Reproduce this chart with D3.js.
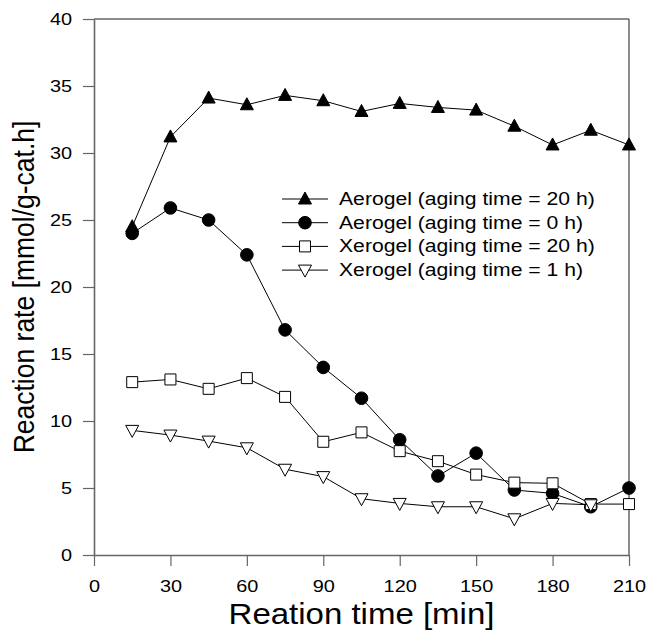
<!DOCTYPE html>
<html>
<head>
<meta charset="utf-8">
<script src="https://cdn.jsdelivr.net/npm/d3@7"></script>
<style>
  body { margin: 0; background: #fff; }
  text { font-family: "Liberation Sans", Arial, sans-serif; }
</style>
</head>
<body>
<svg id="chart" width="647" height="632"></svg>
<script>
// data
const times = [15, 30, 45, 60, 75, 90, 105, 120, 135, 150, 165, 180, 195, 210];
const aerogel20 = [24.5, 31.2, 34.1, 33.6, 34.3, 33.9, 33.1, 33.7, 33.4, 33.2, 32.0, 30.6, 31.7, 30.6];
const aerogel0 = [24.0, 25.9, 25.0, 22.4, 16.8, 14.0, 11.7, 8.6, 5.9, 7.6, 4.85, 4.6, 3.6, 5.0];
const xerogel20 = [12.9, 13.1, 12.4, 13.2, 11.8, 8.45, 9.15, 7.75, 7.0, 6.0, 5.4, 5.35, 3.8, 3.8];
const xerogel1 = [9.3, 8.95, 8.5, 8.0, 6.4, 5.85, 4.2, 3.85, 3.6, 3.6, 2.7, 3.85, 3.75];
const xTicks = [0, 30, 60, 90, 120, 150, 180, 210];
const yTicks = [0, 5, 10, 15, 20, 25, 30, 35, 40];

const series = [
  { name: "Aerogel (aging time = 20 h)", values: aerogel20, symbol: "triUp", fill: "#000" },
  { name: "Aerogel (aging time = 0 h)", values: aerogel0, symbol: "circle", fill: "#000" },
  { name: "Xerogel (aging time = 20 h)", values: xerogel20, symbol: "square", fill: "#fff" },
  { name: "Xerogel (aging time = 1 h)", values: xerogel1, symbol: "triDown", fill: "#fff" }
];

const svg = d3.select("#chart");
const L = 94, R = 629, T = 19, B = 555;
const axisColor = "#666";
const stretch = 1.17; // the original lettering is a bit wide

const x = d3.scaleLinear().domain([0, 210]).range([L, R]);
const y = d3.scaleLinear().domain([0, 40]).range([B, T]);

// markers as paths centred on 0,0
const markerPath = (sym) => {
  if (sym === "triUp") return "M0,-7L6.5,5L-6.5,5Z";
  if (sym === "triDown") return "M0,7L6.5,-5L-6.5,-5Z";
  if (sym === "square") return "M-5.5,-5.5H5.5V5.5H-5.5Z";
  return d3.symbol(d3.symbolCircle, 125)();
};

// frame
svg.append("line").attr("x1", L).attr("x2", R).attr("y1", T).attr("y2", T)
  .attr("stroke", axisColor).attr("stroke-width", 1.5);
svg.append("line").attr("x1", R).attr("x2", R).attr("y1", T).attr("y2", B)
  .attr("stroke", axisColor).attr("stroke-width", 1.5);

// axes
const xAxis = svg.append("g").attr("transform", `translate(0,${B})`)
  .call(d3.axisBottom(x).tickValues(xTicks).tickSize(11).tickSizeOuter(0));
const yAxis = svg.append("g").attr("transform", `translate(${L},0)`)
  .call(d3.axisLeft(y).tickValues(yTicks).tickSize(11).tickSizeOuter(0));

[xAxis, yAxis].forEach((g) => {
  g.select(".domain").attr("stroke", axisColor).attr("stroke-width", 1.6);
  g.selectAll(".tick line").attr("stroke", axisColor).attr("stroke-width", 1.2);
  g.selectAll(".tick text").attr("fill", "#000").attr("font-size", 17)
    .attr("font-family", "Liberation Sans, Arial, sans-serif");
});
xAxis.selectAll(".tick text").attr("y", 0)
  .attr("transform", `translate(0,25) scale(${stretch},1)`);
yAxis.selectAll(".tick text").attr("x", 0)
  .attr("transform", `translate(-22,0) scale(${stretch},1)`);

// axis titles
svg.append("text")
  .attr("transform", `translate(${(L + R) / 2},624) scale(1.1,1)`)
  .attr("text-anchor", "middle").attr("font-size", 30).text("Reation time [min]");
svg.append("text")
  .attr("transform", `translate(34,${(T + B) / 2}) scale(1.1,1) rotate(-90)`)
  .attr("text-anchor", "middle").attr("font-size", 26.5).text("Reaction rate [mmol/g-cat.h]");

const line = d3.line().x((d) => x(d[0])).y((d) => y(d[1]));

series.forEach((s) => {
  const pts = s.values.map((v, i) => [times[i], v]);
  svg.append("path").datum(pts).attr("d", line)
    .attr("fill", "none").attr("stroke", "#000").attr("stroke-width", 1);
  svg.append("g").selectAll("path").data(pts).enter().append("path")
    .attr("transform", (d) => `translate(${x(d[0])},${y(d[1])})`)
    .attr("d", markerPath(s.symbol))
    .attr("fill", s.fill).attr("stroke", "#000").attr("stroke-width", 1);
});

// legend
const legend = svg.append("g").attr("transform", "translate(282,199)");
const row = legend.selectAll("g").data(series).enter().append("g")
  .attr("transform", (d, i) => `translate(0,${i * 23.7})`);
row.append("line").attr("x1", 0).attr("x2", 46).attr("stroke", "#000").attr("stroke-width", 1);
row.append("path").attr("transform", "translate(23,0)")
  .attr("d", (d) => markerPath(d.symbol))
  .attr("fill", (d) => d.fill).attr("stroke", "#000");
row.append("text").attr("transform", "translate(57,6) scale(1.21,1)")
  .attr("font-size", 17.5).text((d) => d.name);
</script>
</body>
</html>
